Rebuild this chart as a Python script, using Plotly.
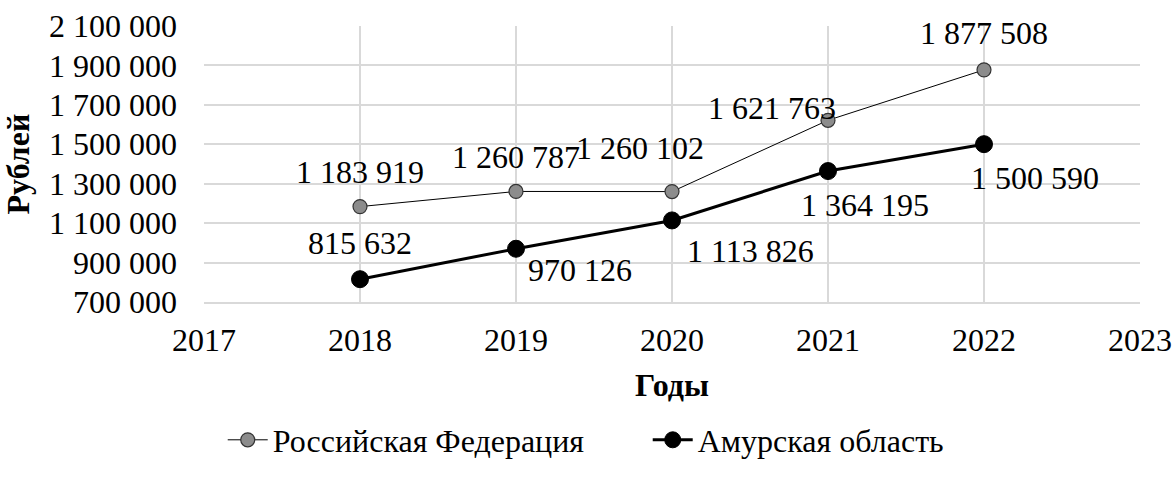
import plotly.graph_objects as go

# Годовые значения, рублей
years = [2018, 2019, 2020, 2021, 2022]
rf_values = [1183919, 1260787, 1260102, 1621763, 1877508]
amur_values = [815632, 970126, 1113826, 1364195, 1500590]

y_ticks = [700000, 900000, 1100000, 1300000, 1500000, 1700000, 1900000, 2100000]
x_ticks = [2017, 2018, 2019, 2020, 2021, 2022, 2023]

# Смещения подписей данных (пиксели)
rf_label_shift = [(0, 35), (0, 34), (-32, 44), (-56, 12), (0, 37)]
amur_label_shift = [(0, 36), (64, -21), (78, -31), (37, -34), (51, -34)]

FONT = "Liberation Serif, Times New Roman, serif"
SIZE = 32
GRID = "#d9d9d9"


def fmt(v):
    return f"{v:,}".replace(",", " ")


fig = go.Figure()
fig.add_trace(go.Scatter(
    x=years, y=rf_values, name="Российская Федерация", mode="lines+markers",
    line=dict(color="black", width=1),
    marker=dict(size=14, color="#8c8c8c", line=dict(color="#333333", width=1.2)),
))
fig.add_trace(go.Scatter(
    x=years, y=amur_values, name="Амурская область", mode="lines+markers",
    line=dict(color="black", width=3),
    marker=dict(size=17, color="black", line=dict(color="black", width=1)),
))

annotations = []
for values, shifts in ((rf_values, rf_label_shift), (amur_values, amur_label_shift)):
    for x, v, (dx, dy) in zip(years, values, shifts):
        annotations.append(dict(
            x=x, y=v, xref="x", yref="y", text=fmt(v), showarrow=False,
            xshift=dx, yshift=dy, font=dict(family=FONT, size=SIZE, color="black"),
        ))

fig.update_layout(
    width=1174, height=477,
    margin=dict(l=204, r=34, t=26, b=175, autoexpand=False),
    paper_bgcolor="white", plot_bgcolor="white",
    font=dict(family=FONT, size=SIZE, color="black"),
    showlegend=True,
    legend=dict(
        orientation="h", x=0.02, xanchor="left",
        y=-0.50, yanchor="middle",
        font=dict(family=FONT, size=SIZE, color="black"),
        entrywidth=370, entrywidthmode="pixels", itemwidth=40,
        bgcolor="rgba(0,0,0,0)",
    ),
    annotations=annotations,
)

fig.update_xaxes(
    range=[2017, 2023], tickvals=x_ticks, ticktext=[str(t) for t in x_ticks],
    showgrid=True, gridcolor=GRID, gridwidth=1.5, zeroline=False,
    showline=True, linecolor=GRID, linewidth=1.5, ticks="",
    ticklabelstandoff=9, automargin=False,
    title=dict(text="<b>Годы</b>", font=dict(family=FONT, size=SIZE), standoff=16),
)
fig.update_yaxes(
    range=[700000, 2100000], tickvals=y_ticks, ticktext=[fmt(t) for t in y_ticks],
    showgrid=True, gridcolor=GRID, gridwidth=1.5, zeroline=False,
    showline=False, ticks="", ticklabelstandoff=26, automargin=False,
    title=dict(text="<b>Рублей</b>", font=dict(family=FONT, size=SIZE), standoff=14),
)

fig.write_html("out.html")
